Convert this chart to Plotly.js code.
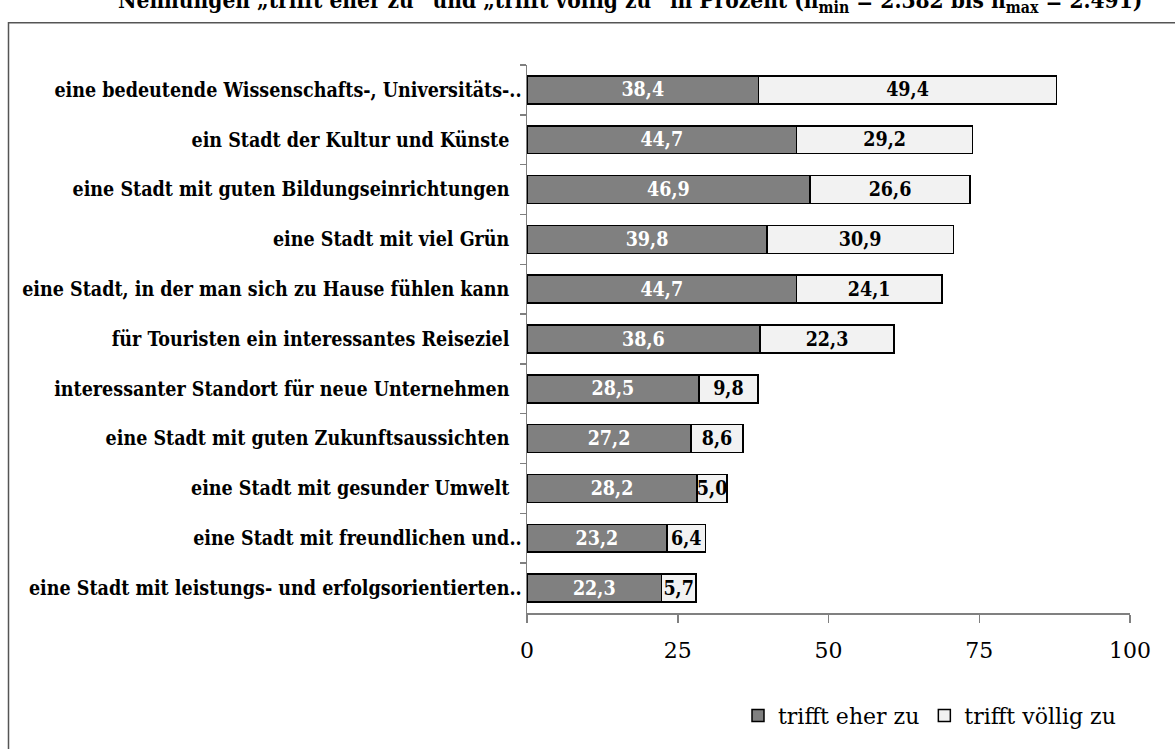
<!DOCTYPE html>
<html>
<head>
<meta charset="utf-8">
<script src="https://cdn.plot.ly/plotly-3.0.1.min.js"></script>
<style>
  html, body { margin: 0; padding: 0; background: #ffffff; }
  #chart { width: 1175px; height: 749px; }
</style>
</head>
<body>
<div id="chart"></div>
<script>
// Aussagen (von oben nach unten)
const kategorien = [
  "eine bedeutende Wissenschafts-, Universitäts-..",
  "ein Stadt der Kultur und Künste\u00a0\u00a0",
  "eine Stadt mit guten Bildungseinrichtungen\u00a0\u00a0",
  "eine Stadt mit viel Grün\u00a0\u00a0",
  "eine Stadt, in der man sich zu Hause fühlen kann\u00a0\u00a0",
  "für Touristen ein interessantes Reiseziel\u00a0\u00a0",
  "interessanter Standort für neue Unternehmen\u00a0\u00a0",
  "eine Stadt mit guten Zukunftsaussichten\u00a0\u00a0",
  "eine Stadt mit gesunder Umwelt\u00a0\u00a0",
  "eine Stadt mit freundlichen und..",
  "eine Stadt mit leistungs- und erfolgsorientierten.."
];
const eherZu  = [38.4, 44.7, 46.9, 39.8, 44.7, 38.6, 28.5, 27.2, 28.2, 23.2, 22.3];
const voelligZu = [49.4, 29.2, 26.6, 30.9, 24.1, 22.3, 9.8, 8.6, 5.0, 6.4, 5.7];
const xTicks = [0, 25, 50, 75, 100];

const titel = "Nennungen „trifft eher zu“ und „trifft völlig zu“ in Prozent (n<sub>min</sub> = 2.382 bis n<sub>max</sub> = 2.491)";

// Geometrie
const W = 1175, H = 749;
const M = { l: 527, r: 45, t: 65, b: 134 };
const pw = W - M.l - M.r, ph = H - M.t - M.b;
const px = x => (x - M.l) / pw;          // Pixel -> paper x
const py = y => 1 - (y - M.t) / ph;      // Pixel -> paper y

const FONT_C = "DejaVu Serif Condensed, DejaVu Serif, serif";
const FONT = "DejaVu Serif, serif";

const traces = [
  {
    type: "bar", orientation: "h", name: "trifft eher zu",
    y: kategorien, x: eherZu,
    marker: { color: "#808080", line: { color: "#000000", width: 1.5 } },
    texttemplate: "%{x:.1f}", textposition: "inside", insidetextanchor: "middle",
    constraintext: "none",
    textfont: { family: FONT_C, size: 19.5, color: "#ffffff", weight: "bold" },
    hoverinfo: "skip"
  },
  {
    type: "bar", orientation: "h", name: "trifft völlig zu",
    y: kategorien, x: voelligZu,
    marker: { color: "#f2f2f2", line: { color: "#000000", width: 1.5 } },
    texttemplate: "%{x:.1f}", textposition: "inside", insidetextanchor: "middle",
    constraintext: "none",
    textfont: { family: FONT_C, size: 19.5, color: "#000000", weight: "bold" },
    hoverinfo: "skip"
  }
];

const layout = {
  width: W, height: H,
  margin: M,
  barmode: "stack",
  bargap: 0.44,
  separators: ",.",
  paper_bgcolor: "#ffffff",
  plot_bgcolor: "#ffffff",
  font: { family: FONT, color: "#000000" },
  showlegend: true,
  legend: {
    orientation: "h",
    x: px(738), y: py(718), xanchor: "left", yanchor: "middle",
    font: { family: FONT, size: 22, color: "#000000" },
    itemwidth: 30, traceorder: "normal"
  },
  xaxis: {
    range: [0, 100], tickvals: xTicks, ticktext: xTicks.map(String),
    showgrid: false, zeroline: false,
    showline: true, linecolor: "#808080", linewidth: 1.5,
    ticks: "outside", ticklen: 8, tickcolor: "#808080", tickwidth: 1.5,
    ticklabelstandoff: 9,
    tickfont: { family: FONT, size: 22, color: "#000000" },
    fixedrange: true
  },
  yaxis: {
    autorange: "reversed",
    showgrid: false, zeroline: false,
    showline: true, linecolor: "#808080", linewidth: 1.5,
    ticks: "outside", ticklen: 6, tickcolor: "#808080", tickwidth: 1.5,
    tickson: "boundaries",
    tickfont: { family: FONT_C, size: 19.5, color: "#000000", weight: "bold" },
    fixedrange: true
  },
  shapes: [
    {
      type: "rect", xref: "paper", yref: "paper",
      x0: px(8.5), x1: px(W + 20), y0: py(22.5), y1: py(H + 20),
      line: { color: "#555555", width: 1.5 }, fillcolor: "rgba(0,0,0,0)",
      layer: "below"
    }
  ],
  annotations: [
    {
      xref: "paper", yref: "paper", x: px(116), y: py(2), xanchor: "left", yanchor: "middle",
      text: "<b>" + titel + "</b>", showarrow: false,
      font: { family: FONT_C, size: 22.5, color: "#000000" }
    }
  ]
};

Plotly.newPlot("chart", traces, layout, { displayModeBar: false, staticPlot: true });
</script>
</body>
</html>
